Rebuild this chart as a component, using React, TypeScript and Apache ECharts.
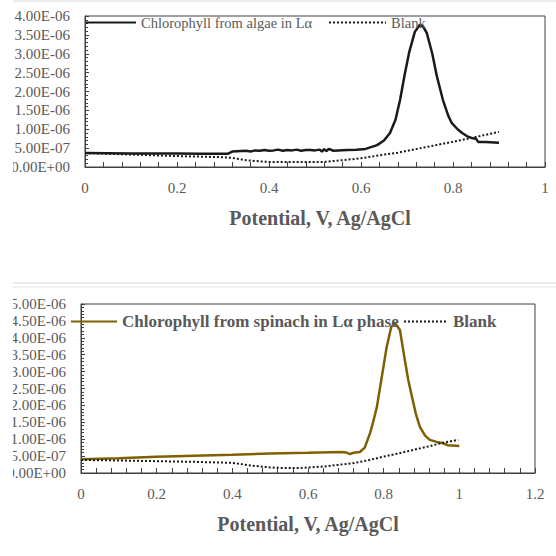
import React, { useEffect, useRef } from "react";
import * as echarts from "echarts";

// Top chart: chlorophyll from algae (current, A) vs potential (V)
const algaeX = [0, 0.05, 0.1, 0.15, 0.2, 0.25, 0.3, 0.31, 0.32, 0.33, 0.35, 0.36, 0.37, 0.38, 0.39, 0.4, 0.41, 0.42, 0.43, 0.44, 0.45, 0.46, 0.47, 0.48, 0.49, 0.5, 0.51, 0.515, 0.52, 0.525, 0.53, 0.54, 0.55, 0.57, 0.59, 0.61, 0.62, 0.635, 0.65, 0.663, 0.675, 0.685, 0.695, 0.705, 0.717, 0.728, 0.735, 0.743, 0.755, 0.765, 0.778, 0.79, 0.797, 0.81, 0.82, 0.83, 0.84, 0.85, 0.855, 0.87, 0.89, 0.9];
const algaeY = [3.7e-7, 3.65e-7, 3.6e-7, 3.55e-7, 3.55e-7, 3.5e-7, 3.5e-7, 3.5e-7, 4.1e-7, 4.2e-7, 4.3e-7, 4.1e-7, 4.4e-7, 4.3e-7, 4.5e-7, 4.3e-7, 4.4e-7, 4.6e-7, 4.3e-7, 4.5e-7, 4.4e-7, 4.6e-7, 4.3e-7, 4.5e-7, 4.5e-7, 4.4e-7, 4.6e-7, 4.1e-7, 4.7e-7, 4.2e-7, 4.8e-7, 4.3e-7, 4.4e-7, 4.5e-7, 4.6e-7, 4.8e-7, 5.2e-7, 5.8e-7, 7.0e-7, 9.0e-7, 1.25e-6, 1.78e-6, 2.45e-6, 3.05e-6, 3.58e-6, 3.77e-6, 3.72e-6, 3.55e-6, 3.0e-6, 2.4e-6, 1.78e-6, 1.35e-6, 1.17e-6, 1.0e-6, 9.0e-7, 8.2e-7, 7.7e-7, 7.5e-7, 6.6e-7, 6.6e-7, 6.5e-7, 6.4e-7];
const blankTopX = [0, 0.05, 0.1, 0.15, 0.2, 0.25, 0.3, 0.32, 0.35, 0.38, 0.4, 0.45, 0.5, 0.52, 0.55, 0.6, 0.64, 0.68, 0.73, 0.78, 0.84, 0.87, 0.9];
const blankTopY = [3.7e-7, 3.5e-7, 3.3e-7, 3.1e-7, 2.9e-7, 2.75e-7, 2.6e-7, 2.4e-7, 1.8e-7, 1.5e-7, 1.35e-7, 1.3e-7, 1.3e-7, 1.35e-7, 1.7e-7, 2.3e-7, 3.1e-7, 3.8e-7, 5.0e-7, 6.2e-7, 7.7e-7, 8.5e-7, 9.3e-7];

// Bottom chart: chlorophyll from spinach
const spinachX = [0, 0.1, 0.2, 0.3, 0.4, 0.5, 0.6, 0.69, 0.7, 0.711, 0.72, 0.737, 0.75, 0.764, 0.772, 0.782, 0.795, 0.808, 0.82, 0.83, 0.843, 0.856, 0.865, 0.875, 0.885, 0.896, 0.91, 0.922, 0.94, 0.954, 0.97, 1.0];
const spinachY = [4.1e-7, 4.4e-7, 4.8e-7, 5.1e-7, 5.4e-7, 5.8e-7, 6.0e-7, 6.2e-7, 6.1e-7, 5.6e-7, 6.0e-7, 6.2e-7, 7.5e-7, 1.18e-6, 1.5e-6, 1.95e-6, 2.84e-6, 3.73e-6, 4.32e-6, 4.44e-6, 4.23e-6, 3.34e-6, 2.75e-6, 2.25e-6, 1.75e-6, 1.36e-6, 1.1e-6, 9.8e-7, 9.2e-7, 8.9e-7, 8.2e-7, 8.0e-7];
const blankBotX = [0, 0.1, 0.2, 0.3, 0.4, 0.45, 0.5, 0.526, 0.58, 0.64, 0.68, 0.724, 0.76, 0.798, 0.84, 0.877, 0.92, 0.954, 0.997];
const blankBotY = [3.85e-7, 3.7e-7, 3.5e-7, 3.3e-7, 3.0e-7, 2.2e-7, 1.65e-7, 1.5e-7, 1.5e-7, 1.9e-7, 2.4e-7, 3.0e-7, 3.8e-7, 4.8e-7, 5.8e-7, 6.8e-7, 7.9e-7, 8.9e-7, 9.8e-7];

const topLegend = ["Chlorophyll from algae in Lα", "Blank"];
const botLegend = ["Chlorophyll from spinach in Lα phase", "Blank"];
const axisTitle = "Potential, V, Ag/AgCl";

const zip = (xs: number[], ys: number[]) => xs.map((x, i) => [x, ys[i]]);

const FONT = "Liberation Serif";
const GRAY = "#595959";
const AXIS = "#404040";

const fmtExp = (v: number) => {
  if (v === 0) return "0.00E+00";
  const [m, e] = v.toExponential(2).split("e");
  const n = parseInt(e, 10);
  const sign = n < 0 ? "-" : "+";
  const abs = Math.abs(n);
  return `${m}E${sign}${abs < 10 ? "0" + abs : abs}`;
};

const makeX = (gridIndex: number, max: number, shift: number) => ({
  type: "value",
  gridIndex,
  min: 0,
  max,
  interval: 0.2,
  name: axisTitle,
  nameLocation: "middle",
  nameGap: 41,
  nameTextStyle: { fontFamily: FONT, fontSize: 20, fontWeight: "bold", color: GRAY, padding: [0, 0, 0, shift] },
  axisLine: { show: true, lineStyle: { color: AXIS, width: 1 } },
  axisTick: { show: true, inside: true, length: 5, lineStyle: { color: AXIS } },
  minorTick: { show: true, splitNumber: 5, length: 5, lineStyle: { color: AXIS } },
  axisLabel: { fontFamily: FONT, fontSize: 15, color: GRAY, margin: 13 },
  splitLine: { show: false },
  minorSplitLine: { show: false },
});

const makeY = (gridIndex: number, max: number) => ({
  type: "value",
  gridIndex,
  min: 0,
  max,
  interval: 5e-7,
  axisLine: { show: true, lineStyle: { color: AXIS, width: 1 } },
  axisTick: { show: true, inside: true, length: 4, lineStyle: { color: AXIS } },
  minorTick: { show: true, splitNumber: 5, length: 3, lineStyle: { color: AXIS } },
  axisLabel: { fontFamily: FONT, fontSize: 15, color: GRAY, margin: 15, formatter: fmtExp },
  splitLine: { show: false },
  minorSplitLine: { show: false },
});

const legendBase = { padding: 0, itemHeight: 14, itemStyle: { opacity: 0 } };

export default function App() {
  const ref = useRef<HTMLDivElement>(null);
  useEffect(() => {
    if (!ref.current) return;
    const chart = echarts.init(ref.current, undefined, { renderer: "svg" });
    chart.setOption({
      animation: false,
      backgroundColor: "#ffffff",
      grid: [
        { left: 85, top: 16, width: 460, height: 151, show: true, borderColor: AXIS, borderWidth: 1, backgroundColor: "transparent" },
        { left: 81, top: 304, width: 454, height: 169, show: true, borderColor: AXIS, borderWidth: 1, backgroundColor: "transparent" },
      ],
      xAxis: [makeX(0, 1, 10), makeX(1, 1.2, 0)],
      yAxis: [makeY(0, 4e-6), makeY(1, 5e-6)],
      legend: [
        {
          ...legendBase, left: 85, top: 15, itemWidth: 50,
          data: [topLegend[0]],
          textStyle: { fontFamily: FONT, fontSize: 14.5, color: GRAY },
        },
        {
          ...legendBase, left: 328, top: 15, itemWidth: 57, itemGap: 8,
          data: [topLegend[1]],
          textStyle: { fontFamily: FONT, fontSize: 14.5, color: GRAY },
        },
        {
          ...legendBase, left: 70, top: 313, itemWidth: 46,
          data: [botLegend[0]],
          textStyle: { fontFamily: FONT, fontSize: 17, fontWeight: "bold", color: GRAY },
        },
        {
          ...legendBase, left: 403, top: 313, itemWidth: 44,
          data: [botLegend[1]],
          textStyle: { fontFamily: FONT, fontSize: 17, fontWeight: "bold", color: GRAY },
        },
      ],
      series: [
        {
          name: topLegend[0], type: "line", xAxisIndex: 0, yAxisIndex: 0,
          data: zip(algaeX, algaeY), showSymbol: false, symbol: "none",
          lineStyle: { color: "#1a1a1a", width: 2.5 }, itemStyle: { color: "#1a1a1a" },
        },
        {
          name: topLegend[1], type: "line", xAxisIndex: 0, yAxisIndex: 0,
          data: zip(blankTopX, blankTopY), showSymbol: false, symbol: "none",
          lineStyle: { color: "#1a1a1a", width: 2, type: "dotted" }, itemStyle: { color: "#1a1a1a" },
        },
        {
          name: botLegend[0], type: "line", xAxisIndex: 1, yAxisIndex: 1,
          data: zip(spinachX, spinachY), showSymbol: false, symbol: "none",
          lineStyle: { color: "#7f6000", width: 2.5 }, itemStyle: { color: "#7f6000" },
        },
        {
          name: botLegend[1], type: "line", xAxisIndex: 1, yAxisIndex: 1,
          data: zip(blankBotX, blankBotY), showSymbol: false, symbol: "none",
          lineStyle: { color: "#1a1a1a", width: 2, type: "dotted" }, itemStyle: { color: "#1a1a1a" },
        },
      ],
      graphic: [
        { type: "rect", left: 0, top: 0, shape: { width: 13, height: 556 }, style: { fill: "#ffffff" }, z: 100 },
        { type: "line", shape: { x1: 13, y1: 1, x2: 556, y2: 1 }, style: { stroke: "#d9d9d9", lineWidth: 1 }, z: 100 },
        { type: "line", shape: { x1: 13, y1: 283, x2: 556, y2: 283 }, style: { stroke: "#d9d9d9", lineWidth: 1 }, z: 100 },
        { type: "line", shape: { x1: 13, y1: 287, x2: 556, y2: 287 }, style: { stroke: "#e3e3e3", lineWidth: 1 }, z: 100 },
      ],
    });
    return () => chart.dispose();
  }, []);
  return <div ref={ref} style={{ position: "fixed", left: 0, top: 0, width: 556, height: 556 }} />;
}
